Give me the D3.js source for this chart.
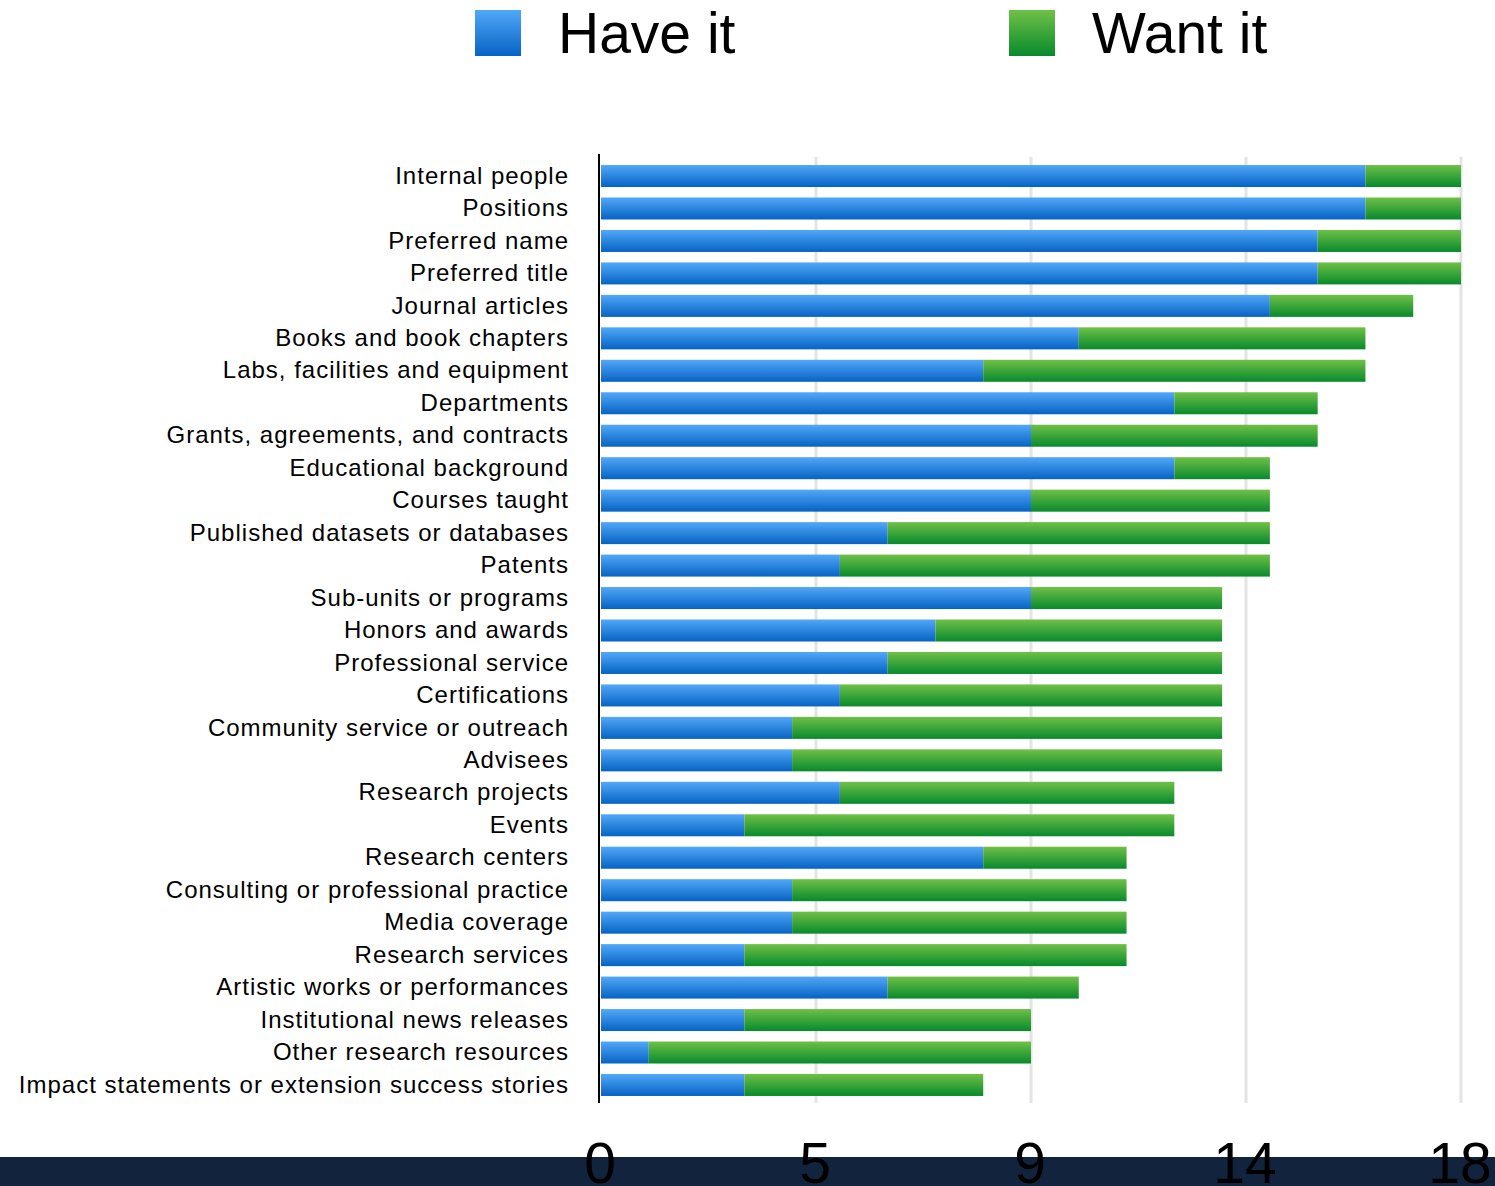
<!DOCTYPE html>
<html>
<head>
<meta charset="utf-8">
<script src="https://cdn.jsdelivr.net/npm/d3@7"></script>
<style>
  body { margin: 0; background: #fff; }
  svg { display: block; font-family: "Liberation Sans", Arial, Helvetica, sans-serif; }
</style>
</head>
<body>
<svg id="chart"></svg>
<script>
// Data
const categories = [
  "Internal people", "Positions", "Preferred name", "Preferred title", "Journal articles",
  "Books and book chapters", "Labs, facilities and equipment", "Departments",
  "Grants, agreements, and contracts", "Educational background", "Courses taught",
  "Published datasets or databases", "Patents", "Sub-units or programs", "Honors and awards",
  "Professional service", "Certifications", "Community service or outreach", "Advisees",
  "Research projects", "Events", "Research centers", "Consulting or professional practice",
  "Media coverage", "Research services", "Artistic works or performances",
  "Institutional news releases", "Other research resources",
  "Impact statements or extension success stories"
];
const haveIt = [16, 16, 15, 15, 14, 10, 8, 12, 9, 12, 9, 6, 5, 9, 7, 6, 5, 4, 4, 5, 3, 8, 4, 4, 3, 6, 3, 1, 3];
const wantIt = [2, 2, 3, 3, 3, 6, 8, 3, 6, 2, 5, 8, 9, 4, 6, 7, 8, 9, 9, 7, 9, 3, 7, 7, 8, 4, 6, 8, 5];
const tickValues = [0, 4.5, 9, 13.5, 18];
const seriesNames = ["Have it", "Want it"];

const width = 1495, height = 1186;
const margin = { top: 155, left: 600, right: 35, bottom: 83 };

const svg = d3.select("#chart").attr("width", width).attr("height", height);

// Gradients
const defs = svg.append("defs");
const gradients = [
  { id: "gradBlue", top: "#52a8f8", bottom: "#0663c4" },
  { id: "gradGreen", top: "#70c047", bottom: "#078a2c" }
];
gradients.forEach(g => {
  const lg = defs.append("linearGradient").attr("id", g.id)
    .attr("x1", 0).attr("y1", 0).attr("x2", 0).attr("y2", 1);
  lg.append("stop").attr("offset", "0%").attr("stop-color", g.top);
  lg.append("stop").attr("offset", "100%").attr("stop-color", g.bottom);
});
const fills = ["url(#gradBlue)", "url(#gradGreen)"];

// Scales
const x = d3.scaleLinear().domain([0, 18]).range([margin.left, width - margin.right]);
const y = d3.scaleBand().domain(categories)
  .range([159.8, 1101.2])
  .paddingInner(0.322).paddingOuter(0.161);

// Bottom band
svg.append("rect")
  .attr("x", 0).attr("y", 1157).attr("width", width).attr("height", height - 1157)
  .attr("fill", "#12233d");

// Gridlines
svg.append("g")
  .selectAll("line")
  .data(tickValues.slice(1))
  .join("line")
  .attr("x1", d => x(d) + 1).attr("x2", d => x(d) + 1)
  .attr("y1", margin.top + 2).attr("y2", height - margin.bottom)
  .attr("stroke", "#e4e4e4")
  .attr("stroke-width", 3);

// Stacked bars
const rows = categories.map((c, i) => ({ cat: c, have: haveIt[i], want: wantIt[i] }));
const stacked = d3.stack().keys(["have", "want"])(rows);

svg.append("g")
  .selectAll("g")
  .data(stacked)
  .join("g")
  .attr("fill", (d, i) => fills[i])
  .selectAll("rect")
  .data(d => d)
  .join("rect")
  .attr("x", d => x(d[0]) + 1)
  .attr("y", d => y(d.data.cat))
  .attr("width", d => x(d[1]) - x(d[0]))
  .attr("height", y.bandwidth());

// Y axis line
svg.append("line")
  .attr("x1", x(0) - 1).attr("x2", x(0) - 1)
  .attr("y1", margin.top - 1).attr("y2", height - margin.bottom)
  .attr("stroke", "#000").attr("stroke-width", 2);

// Category labels
svg.append("g")
  .selectAll("text")
  .data(categories)
  .join("text")
  .attr("x", 569)
  .attr("y", d => y(d) + y.bandwidth() / 2)
  .attr("dy", "0.32em")
  .attr("text-anchor", "end")
  .attr("font-size", 24)
  .attr("letter-spacing", 1)
  .attr("fill", "#000")
  .text(d => d);

// X tick labels (cut by the bottom edge, as in the original)
svg.append("g")
  .selectAll("text")
  .data(tickValues)
  .join("text")
  .attr("x", d => x(d))
  .attr("y", 1183)
  .attr("text-anchor", "middle")
  .attr("font-size", 57)
  .attr("fill", "#000")
  .text(d => Math.round(d));

// Legend
const legendX = [475, 1009];
const legend = svg.append("g")
  .selectAll("g")
  .data(seriesNames)
  .join("g")
  .attr("transform", (d, i) => `translate(${legendX[i]},10)`);
legend.append("rect")
  .attr("width", 46).attr("height", 46)
  .attr("fill", (d, i) => fills[i]);
legend.append("text")
  .attr("x", 83).attr("y", 43)
  .attr("font-size", 57)
  .attr("fill", "#000")
  .text(d => d);
</script>
</body>
</html>
